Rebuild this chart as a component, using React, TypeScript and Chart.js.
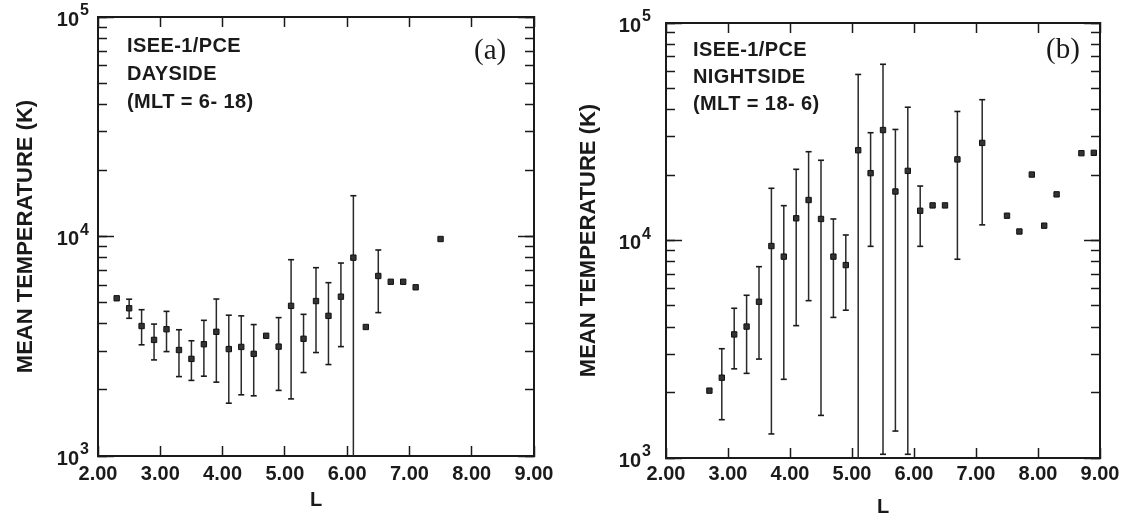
import React, { useEffect, useRef } from "react";
import { Chart, registerables } from "chart.js";

Chart.register(...registerables);

// ---------- Panel (a): ISEE-1/PCE dayside (MLT = 6-18) ----------
const dayL = [2.3, 2.5, 2.7, 2.9, 3.1, 3.3, 3.5, 3.7, 3.9, 4.1, 4.3, 4.5, 4.7, 4.9, 5.1, 5.3, 5.5, 5.7, 5.9, 6.1, 6.3, 6.5, 6.7, 6.9, 7.1, 7.5];
const dayMean = [5230, 4710, 3910, 3380, 3780, 3040, 2770, 3230, 3680, 3070, 3140, 2920, 3530, 3150, 4830, 3420, 5080, 4350, 5320, 8010, 3870, 6610, 6220, 6220, 5870, 9740];
const dayLow = [null, 4240, 3210, 2740, 2990, 2300, 2210, 2310, 2170, 1740, 1900, 1880, null, 1990, 1820, 2400, 2960, 2610, 3150, 800, null, 4500, null, null, null, null];
const dayHigh = [null, 5180, 4640, 3990, 4560, 3760, 3350, 4150, 5190, 4380, 4350, 3970, null, 4270, 7840, 4420, 7210, 6160, 7570, 15340, null, 8680, null, null, null, null];

// ---------- Panel (b): ISEE-1/PCE nightside (MLT = 18-6) ----------
const nightL = [2.7, 2.9, 3.1, 3.3, 3.5, 3.7, 3.9, 4.1, 4.3, 4.5, 4.7, 4.9, 5.1, 5.3, 5.5, 5.7, 5.9, 6.1, 6.3, 6.5, 6.7, 7.1, 7.5, 7.7, 7.9, 8.1, 8.3, 8.7, 8.9];
const nightMean = [2040, 2340, 3700, 4020, 5230, 9430, 8430, 12650, 15350, 12560, 8430, 7710, 26000, 20400, 32200, 16800, 20900, 13700, 14500, 14500, 23600, 28100, 13000, 11000, 20100, 11700, 16300, 25200, 25300];
const nightLow = [null, 1500, 2570, 2450, 2850, 1290, 2300, 4060, 5290, 1570, 4430, 4780, 800, 9400, 1040, 1330, 1040, 9400, null, null, 8200, 11800, null, null, null, null, null, null, null];
const nightHigh = [null, 3180, 4880, 5600, 7580, 17380, 14460, 21250, 25600, 23380, 12560, 10600, 58000, 31300, 64600, 32400, 41000, 17800, null, null, 39200, 44400, null, null, null, null, null, null, null];

// ---------- Axes ----------
const xMin = 2;
const xMax = 9;
const xTickValues = [2, 3, 4, 5, 6, 7, 8, 9];
const yMin = 1000;
const yMax = 100000;
const yTickValues = [
  1000, 2000, 3000, 4000, 5000, 6000, 7000, 8000, 9000,
  10000, 20000, 30000, 40000, 50000, 60000, 70000, 80000, 90000,
  100000,
];
const yDecadeTicks = [1000, 10000, 100000];
const yDecadeBase = "10";
const yDecadeExponents: Record<string, string> = { "1000": "3", "10000": "4", "100000": "5" };
const xTitle = "L";
const yTitle = "MEAN TEMPERATURE (K)";
const dayNotes = ["ISEE-1/PCE", "DAYSIDE", "(MLT = 6- 18)"];
const nightNotes = ["ISEE-1/PCE", "NIGHTSIDE", "(MLT = 18- 6)"];

const INK = "#1a1a1a";
const SANS = '"Liberation Sans", Arial, Helvetica, sans-serif';
const SERIF = '"Liberation Serif", "Times New Roman", serif';

type Panel = { L: number[]; mean: number[]; low: (number | null)[]; high: (number | null)[] };
type Geom = {
  w: number;
  h: number;
  yW: number;
  y2W: number;
  topH: number;
  botH: number;
  yTitlePad: number;
  xTitlePad: number;
  xTickPad: number;
  basePad: number;
  expPad: number;
};

function decadeKey(v: any) {
  return String(Math.round(Number(v)));
}

function fixSize(s: any, size: { width?: number; height?: number }) {
  if (size.width !== undefined) s.width = size.width;
  if (size.height !== undefined) s.height = size.height;
  s.paddingTop = 0;
  s.paddingBottom = 0;
  s.paddingLeft = 0;
  s.paddingRight = 0;
}

function makeConfig(p: Panel, g: Geom): any {
  const bars: any[] = [];
  const caps: any[] = [];
  p.L.forEach((x, i) => {
    const lo = p.low[i];
    const hi = p.high[i];
    if (lo != null && hi != null) {
      bars.push({ x, y: lo }, { x, y: hi }, { x, y: null });
      caps.push({ x, y: lo }, { x, y: hi });
    }
  });
  const means = p.L.map((x, i) => ({ x, y: p.mean[i] }));

  const tickFont = { family: SANS, size: 20, weight: "bold" as const };
  const border = { display: true, color: INK, width: 2 };
  const noBorder = { display: false };
  const xGrid = { drawOnChartArea: false, drawTicks: true, tickLength: -10, tickWidth: 1.5, tickColor: INK };
  const yMinorGrid = { drawOnChartArea: false, drawTicks: true, tickLength: -9, tickWidth: 1.5, tickColor: INK };
  const yMajorGrid = { drawOnChartArea: false, drawTicks: true, tickLength: -16, tickWidth: 1.5, tickColor: INK };
  const setXTicks = (s: any) => {
    s.ticks = xTickValues.map((v) => ({ value: v }));
  };
  const setYTicks = (s: any) => {
    s.ticks = yTickValues.map((v) => ({ value: v, major: yDecadeTicks.includes(v) }));
  };
  const setYDecades = (s: any) => {
    s.ticks = yDecadeTicks.map((v) => ({ value: v, major: true }));
  };

  return {
    type: "scatter",
    data: {
      datasets: [
        {
          label: "mean",
          data: means,
          pointStyle: "rect",
          pointRadius: 3.8,
          backgroundColor: "#333",
          borderColor: "#111",
          borderWidth: 1,
          showLine: false,
        },
        {
          label: "caps",
          data: caps,
          pointStyle: "line",
          pointRadius: 3,
          borderColor: INK,
          borderWidth: 1.6,
          showLine: false,
        },
        {
          label: "range",
          data: bars,
          showLine: true,
          spanGaps: false,
          pointRadius: 0,
          borderColor: "#2a2a2a",
          borderWidth: 1.5,
        },
      ],
    },
    options: {
      responsive: false,
      animation: false,
      events: [],
      layout: { padding: 0 },
      plugins: { legend: { display: false }, tooltip: { enabled: false } },
      scales: {
        x: {
          type: "linear",
          position: "bottom",
          min: xMin,
          max: xMax,
          afterBuildTicks: setXTicks,
          ticks: {
            autoSkip: false,
            maxRotation: 0,
            font: tickFont,
            color: INK,
            padding: g.xTickPad,
            callback: (v: any) => Number(v).toFixed(2),
          },
          grid: xGrid,
          border,
          title: {
            display: true,
            text: xTitle,
            color: INK,
            font: { family: SANS, size: 20, weight: "bold" },
            padding: { top: 0, bottom: g.xTitlePad },
          },
          afterFit: (s: any) => fixSize(s, { height: g.botH }),
        },
        x2: {
          type: "linear",
          position: "top",
          min: xMin,
          max: xMax,
          afterBuildTicks: setXTicks,
          ticks: { display: false },
          grid: xGrid,
          border,
          afterFit: (s: any) => fixSize(s, { height: g.topH }),
        },
        y: {
          type: "logarithmic",
          position: "left",
          weight: 1,
          min: yMin,
          max: yMax,
          afterBuildTicks: setYTicks,
          ticks: {
            autoSkip: false,
            font: tickFont,
            color: INK,
            padding: g.basePad,
            labelOffset: 3,
            callback: (v: any) => (yDecadeExponents[decadeKey(v)] ? yDecadeBase : ""),
          },
          grid: yMinorGrid,
          border,
          title: {
            display: true,
            text: yTitle,
            color: INK,
            font: { family: SANS, size: 22, weight: "bold" },
            padding: { top: g.yTitlePad, bottom: 0 },
          },
          afterFit: (s: any) => fixSize(s, { width: g.yW }),
        },
        yMajorLeft: {
          type: "logarithmic",
          position: "left",
          weight: 0,
          min: yMin,
          max: yMax,
          afterBuildTicks: setYDecades,
          ticks: {
            autoSkip: false,
            mirror: true,
            font: { family: SANS, size: 16, weight: "bold" },
            color: INK,
            padding: g.expPad,
            labelOffset: -6,
            callback: (v: any) => yDecadeExponents[decadeKey(v)] || "",
          },
          grid: yMajorGrid,
          border: noBorder,
          afterFit: (s: any) => fixSize(s, { width: 0 }),
        },
        y2: {
          type: "logarithmic",
          position: "right",
          weight: 1,
          min: yMin,
          max: yMax,
          afterBuildTicks: setYTicks,
          ticks: { display: false },
          grid: yMinorGrid,
          border,
          afterFit: (s: any) => fixSize(s, { width: g.y2W }),
        },
        yMajorRight: {
          type: "logarithmic",
          position: "right",
          weight: 0,
          min: yMin,
          max: yMax,
          afterBuildTicks: setYDecades,
          ticks: { display: false },
          grid: yMajorGrid,
          border: noBorder,
          afterFit: (s: any) => fixSize(s, { width: 0 }),
        },
      },
    },
  };
}

function PanelChart({ panel, geom }: { panel: Panel; geom: Geom }) {
  const ref = useRef<HTMLCanvasElement>(null);
  useEffect(() => {
    if (!ref.current) return;
    const chart = new Chart(ref.current, makeConfig(panel, geom));
    return () => chart.destroy();
  }, [panel, geom]);
  return <canvas ref={ref} width={geom.w} height={geom.h} style={{ display: "block", width: geom.w, height: geom.h }} />;
}

const dayPanel: Panel = { L: dayL, mean: dayMean, low: dayLow, high: dayHigh };
const nightPanel: Panel = { L: nightL, mean: nightMean, low: nightLow, high: nightHigh };

const dayGeom: Geom = {
  w: 560, h: 519, yW: 98, y2W: 26, topH: 17, botH: 63,
  yTitlePad: 13, xTitlePad: 7, xTickPad: 16, basePad: 28, expPad: -18,
};
const nightGeom: Geom = {
  w: 571, h: 519, yW: 106, y2W: 31, topH: 23, botH: 61,
  yTitlePad: 16, xTitlePad: 0, xTickPad: 14, basePad: 34, expPad: -24,
};

function Notes({ lines, left, top, lh }: { lines: string[]; left: number; top: number; lh: number }) {
  return (
    <div
      style={{
        position: "absolute",
        left,
        top,
        fontFamily: SANS,
        fontWeight: "bold",
        fontSize: 20,
        lineHeight: `${lh}px`,
        letterSpacing: "0.4px",
        color: INK,
        whiteSpace: "pre",
      }}
    >
      {lines.map((t, i) => (
        <div key={i}>{t}</div>
      ))}
    </div>
  );
}

function PanelTag({ text, left, top }: { text: string; left: number; top: number }) {
  return (
    <div style={{ position: "absolute", left, top, fontFamily: SERIF, fontSize: 29, lineHeight: "29px", color: INK }}>
      {text}
    </div>
  );
}

export default function App() {
  return (
    <div style={{ position: "absolute", left: 0, top: 0, width: 1131, height: 519, background: "#fff", overflow: "hidden" }}>
      <div style={{ position: "absolute", left: 0, top: 0 }}>
        <PanelChart panel={dayPanel} geom={dayGeom} />
      </div>
      <div style={{ position: "absolute", left: 560, top: 0 }}>
        <PanelChart panel={nightPanel} geom={nightGeom} />
      </div>
      <Notes lines={dayNotes} left={127} top={31} lh={28} />
      <Notes lines={nightNotes} left={693} top={36} lh={27} />
      <PanelTag text="(a)" left={474} top={35} />
      <PanelTag text="(b)" left={1046} top={34} />
    </div>
  );
}
